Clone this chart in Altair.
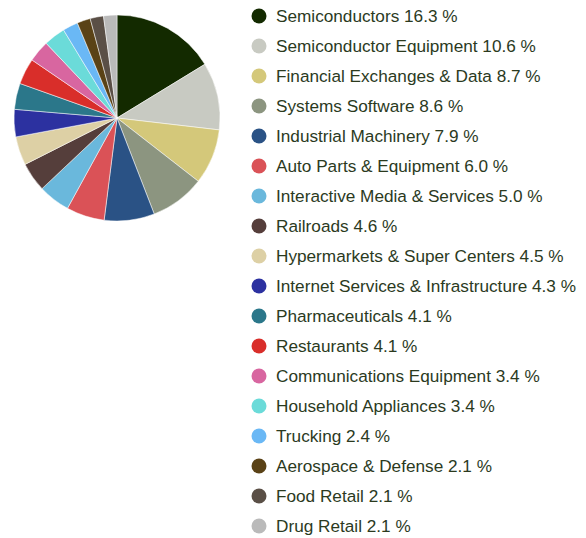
import altair as alt
import pandas as pd

categories = [
    "Semiconductors", "Semiconductor Equipment", "Financial Exchanges & Data",
    "Systems Software", "Industrial Machinery", "Auto Parts & Equipment",
    "Interactive Media & Services", "Railroads", "Hypermarkets & Super Centers",
    "Internet Services & Infrastructure", "Pharmaceuticals", "Restaurants",
    "Communications Equipment", "Household Appliances", "Trucking",
    "Aerospace & Defense", "Food Retail", "Drug Retail",
]
values = [16.3, 10.6, 8.7, 8.6, 7.9, 6.0, 5.0, 4.6, 4.5, 4.3, 4.1, 4.1,
          3.4, 3.4, 2.4, 2.1, 2.1, 2.1]
colors = ["#132a00", "#c8cac2", "#d4c87a", "#8c9580", "#2a5285", "#da5257",
          "#6ab8dc", "#553e3b", "#ddd0a5", "#2c31a0", "#2b778a", "#d92e2a",
          "#d866a0", "#6bdbd9", "#6ab8f5", "#5a4216", "#5a4f46", "#bababa"]

df = pd.DataFrame({
    "category": categories,
    "value": values,
    "order": list(range(len(categories))),
    "label": [f"{c} {v:.1f} %" for c, v in zip(categories, values)],
})

color = alt.Color("category:N", scale=alt.Scale(domain=categories, range=colors), legend=None)

base = alt.Chart(df)

pie = base.mark_arc(radius=103, stroke="#ffffff", strokeWidth=0.5).encode(
    theta=alt.Theta("value:Q", stack=True),
    order=alt.Order("order:Q"),
    color=color,
    x=alt.value(117),
    y=alt.value(118),
)

ypos = alt.Y("order:Q", scale=alt.Scale(domain=[0, 17], range=[16, 526]), axis=None)

dots = base.mark_point(shape="circle", filled=True, size=225, opacity=1).encode(
    x=alt.value(259),
    y=ypos,
    color=color,
)

texts = base.mark_text(align="left", baseline="middle", fontSize=17.2, dy=1,
                       font="Liberation Sans", color="#2b3a1e").encode(
    x=alt.value(276),
    y=ypos,
    text="label:N",
)

chart = alt.layer(pie, dots, texts).properties(
    width=586, height=538,
    autosize=alt.AutoSizeParams(type="none"),
    padding=0,
).configure_view(stroke=None)

chart.save("out.html", embed_options={"renderer": "svg", "actions": False})
